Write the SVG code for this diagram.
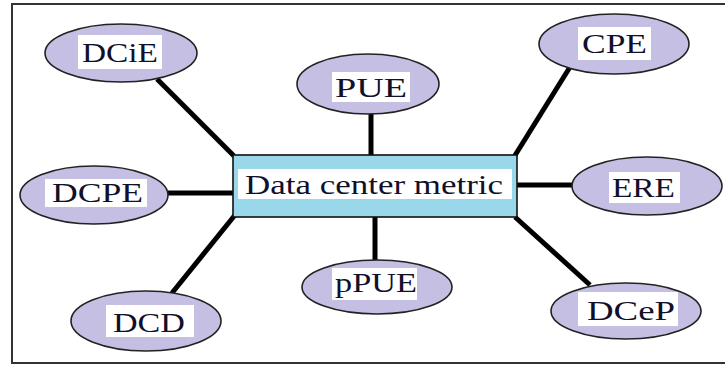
<svg xmlns="http://www.w3.org/2000/svg" width="725" height="366" viewBox="0 0 725 366">
<style>
.node ellipse{fill:#c5bfe3;stroke:#222;stroke-width:1.6}
.lbl{fill:#fff}
text{font-family:"Liberation Serif","Times New Roman",serif;font-size:28px;fill:#10102a}
.conn line{stroke:#000;stroke-width:5;stroke-linecap:butt}
</style>
<rect x="0" y="0" width="725" height="366" fill="#fff"/>
<rect x="12" y="4" width="724" height="359" fill="none" stroke="#333" stroke-width="2"/>
<g id="connectors" class="conn">
<line x1="157" y1="79" x2="234" y2="156"/>
<line x1="570" y1="67" x2="514" y2="157"/>
<line x1="371" y1="113" x2="371" y2="155"/>
<line x1="168" y1="193" x2="233" y2="193"/>
<line x1="517" y1="185" x2="572" y2="185"/>
<line x1="375" y1="217" x2="375" y2="260"/>
<line x1="235" y1="215" x2="172" y2="293"/>
<line x1="515" y1="217" x2="590" y2="285"/>
</g>
<g id="center">
<rect x="233" y="155" width="284" height="62" fill="#99d8ea" stroke="#111" stroke-width="1.6"/>
<rect class="lbl" x="238" y="169" width="274" height="30"/>
<text x="245" y="194" textLength="258" lengthAdjust="spacingAndGlyphs">Data center metric</text>
</g>
<g id="DCiE" class="node">
<ellipse cx="121" cy="53" rx="76" ry="29"/>
<rect class="lbl" x="78" y="35" width="84" height="34"/>
<text x="82" y="62" textLength="76" lengthAdjust="spacingAndGlyphs">DCiE</text>
</g>
<g id="PUE" class="node">
<ellipse cx="368" cy="84" rx="71" ry="30"/>
<rect class="lbl" x="332" y="72" width="78" height="30"/>
<text x="335" y="97" textLength="72" lengthAdjust="spacingAndGlyphs">PUE</text>
</g>
<g id="CPE" class="node">
<ellipse cx="614" cy="44" rx="75" ry="30"/>
<rect class="lbl" x="578" y="27" width="73" height="33"/>
<text x="582" y="53" textLength="65" lengthAdjust="spacingAndGlyphs">CPE</text>
</g>
<g id="DCPE" class="node">
<ellipse cx="94" cy="195" rx="74" ry="29"/>
<rect class="lbl" x="45" y="179" width="102" height="28"/>
<text x="52" y="202" textLength="91" lengthAdjust="spacingAndGlyphs">DCPE</text>
</g>
<g id="ERE" class="node">
<ellipse cx="647" cy="186" rx="75" ry="29"/>
<rect class="lbl" x="609" y="172" width="71" height="31"/>
<text x="612" y="197" textLength="63" lengthAdjust="spacingAndGlyphs">ERE</text>
</g>
<g id="pPUE" class="node">
<ellipse cx="377" cy="287" rx="75" ry="27"/>
<rect class="lbl" x="332" y="268" width="85" height="32"/>
<text x="335" y="292" textLength="82" lengthAdjust="spacingAndGlyphs">pPUE</text>
</g>
<g id="DCD" class="node">
<ellipse cx="146" cy="321" rx="75" ry="30"/>
<rect class="lbl" x="106" y="305" width="88" height="32"/>
<text x="113" y="332" textLength="72" lengthAdjust="spacingAndGlyphs">DCD</text>
</g>
<g id="DCeP" class="node">
<ellipse cx="626" cy="311" rx="75" ry="28"/>
<rect class="lbl" x="578" y="292" width="100" height="34"/>
<text x="587" y="320" textLength="88" lengthAdjust="spacingAndGlyphs">DCeP</text>
</g>
</svg>
